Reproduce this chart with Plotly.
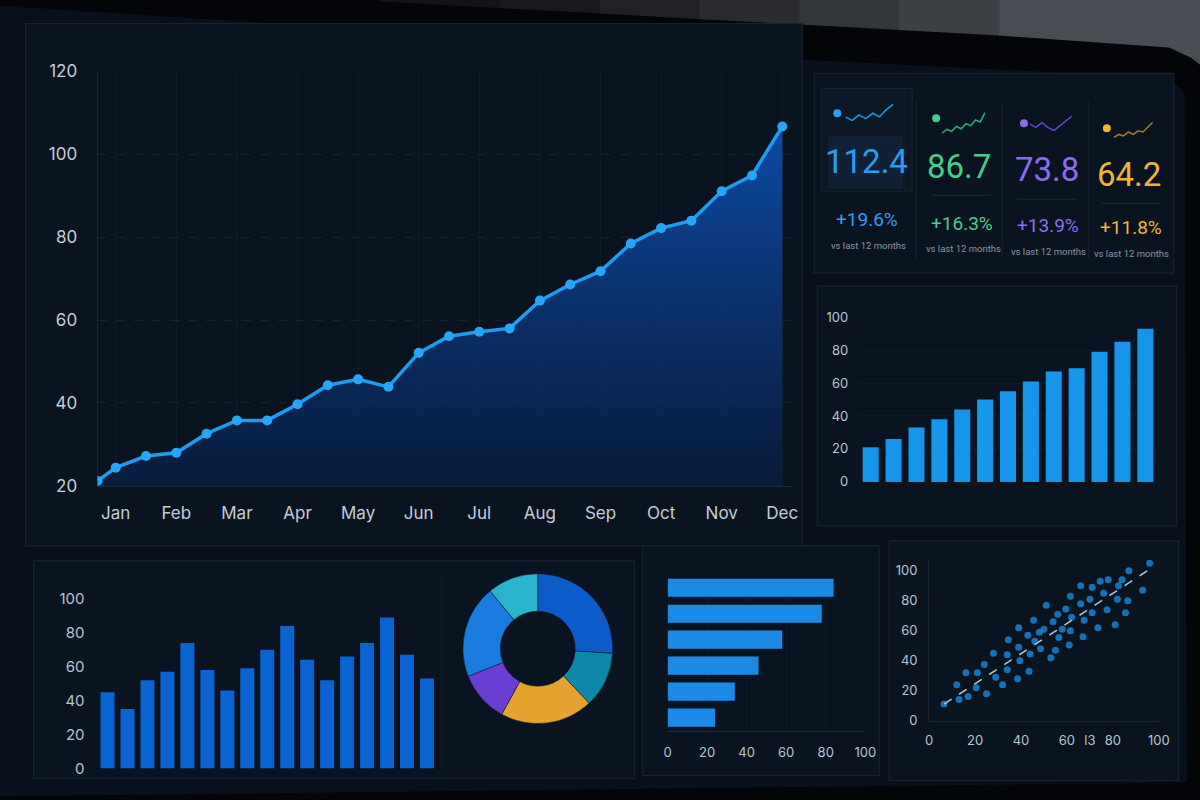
import plotly.graph_objects as go

# ---- data ----
months = ["Jan", "Feb", "Mar", "Apr", "May", "Jun", "Jul", "Aug", "Sep", "Oct", "Nov", "Dec"]
line_x = [-0.3, 0, 0.5, 1, 1.5, 2, 2.5, 3, 3.5, 4, 4.5, 5,
          5.5, 6, 6.5, 7, 7.5, 8, 8.5, 9, 9.5, 10, 10.5, 11]
line_y = [21.2, 24.4, 27.2, 28.0, 32.6, 35.8, 35.8, 39.7, 44.3, 45.7, 43.9, 52.1,
          56.1, 57.2, 58.0, 64.7, 68.6, 71.8, 78.5, 82.2, 84.0, 91.1, 94.9, 106.7]

kpi_values = ["112.4", "86.7", "73.8", "64.2"]
kpi_changes = ["+19.6%", "+16.3%", "+13.9%", "+11.8%"]
kpi_note = "vs last 12 months"
spark_blue = [3, 2, 3.5, 2.5, 4, 3, 5, 6.5]
spark_green = [1, 2, 1.5, 2.8, 2.2, 3.5, 3, 4.5, 4, 6.5]
spark_purple = [4, 3, 4.5, 3, 2, 3.5, 5, 6.5]
spark_orange = [1, 2, 1.5, 2.8, 2, 3.2, 2.8, 4.5, 6]

monthly_bars = [21, 26, 33, 38, 44, 50, 55, 61, 67, 69, 79, 85, 93]

weekly_bars = [45, 35, 52, 57, 74, 58, 46, 59, 70, 84, 64, 52, 66, 74, 89, 67, 53]

donut_labels = ["A", "B", "C", "D", "E", "F"]
donut_values = [26, 12, 20, 11, 20, 11]

hbar_labels = ["R1", "R2", "R3", "R4", "R5", "R6"]
hbar_values = [84, 78, 58, 46, 34, 24]

scatter_x = [6.5, 12, 16, 17, 13, 20.5, 21, 25, 24, 28, 29, 32, 34, 34.5, 34, 38.5, 39, 39, 39.5,
             43, 43.5, 44, 45.5, 46, 48.5, 50, 51, 53, 54, 56, 56.5, 59.5, 61, 61.5, 61.5, 62,
             66, 66, 67, 67.5, 70, 71, 73.5, 76, 74.5, 77.5, 78, 82, 82.5, 85.5, 86.5, 87, 84,
             93, 96, 81, 48, 58, 71, 55]
scatter_y = [11, 24, 32, 16, 14, 22, 32, 18, 37.5, 45, 29, 24, 44, 54, 34, 28, 62, 49, 40,
             57, 33, 44.5, 67, 53, 48, 61, 77, 42, 66, 71, 55.5, 74.5, 50.5, 60, 83, 69,
             90, 78, 56, 67, 81, 72, 62, 85, 93, 74, 94, 81, 90, 72, 80, 100, 94,
             87, 105, 64, 59, 61, 89, 47]
trend_x = [6.5, 95]
trend_y = [11, 100]
scatter_ticks = [0, 20, 40, 60, 70, 80, 100]
scatter_ticktext = ["0", "20", "40", "60", "l3", "80", "100"]

# the page lands slightly inset in the photo, so pixel targets are mapped through this
OX, OY, SW, SH = 3.3, 8.5, 1187.0, 781.0
TICK = "#b9c3d1"
FONT = "Inter"


def fx(x):
    return (x - OX) / SW


def fy(y):
    return 1 - (y - OY) / SH


def dx(a, b):
    return [fx(a), fx(b)]


def dy(top, bottom):
    return [fy(bottom), fy(top)]


def px_path(points):
    return "M " + " L ".join(f"{fx(x):.4f},{fy(y):.4f}" for x, y in points) + " Z"


def panel(x0, y0, x1, y1, fill="#0a1420"):
    return dict(type="rect", xref="paper", yref="paper", layer="below",
                x0=fx(x0), x1=fx(x1), y0=fy(y1), y1=fy(y0),
                fillcolor=fill, line=dict(color="#18232f", width=1.2))


fig = go.Figure()

# main line chart
fig.add_trace(go.Scatter(
    x=line_x, y=line_y, mode="lines+markers", xaxis="x", yaxis="y",
    line=dict(color="#1f9cf0", width=3.5),
    marker=dict(size=10, color="#27a6f6"),
    fill="tozeroy",
    fillgradient=dict(type="vertical",
                      colorscale=[[0, "rgba(6,22,50,0.6)"], [1, "rgba(12,78,175,0.95)"]]),
    hoverinfo="skip"))

# sparklines
sparks = [(spark_blue, "#1f8fe0"), (spark_green, "#2fa870"),
          (spark_purple, "#5a46c8"), (spark_orange, "#a07a28")]
for i, (s, c) in enumerate(sparks):
    n = str(6 + i)
    fig.add_trace(go.Scatter(y=s, mode="lines", xaxis="x" + n, yaxis="y" + n,
                             line=dict(color=c, width=1.6), hoverinfo="skip"))

# right bar chart
fig.add_trace(go.Bar(y=monthly_bars, xaxis="x2", yaxis="y2",
                     marker=dict(color="#1596ea", line=dict(width=0)),
                     hoverinfo="skip"))

# bottom-left bar chart
fig.add_trace(go.Bar(y=weekly_bars, xaxis="x3", yaxis="y3",
                     marker=dict(color="#0a63d2", line=dict(width=0)),
                     hoverinfo="skip"))

# donut
fig.add_trace(go.Pie(
    labels=donut_labels, values=donut_values, hole=0.5, sort=False,
    direction="clockwise", rotation=0, textinfo="none", hoverinfo="skip",
    marker=dict(colors=["#0b5cc9", "#0c88a8", "#e5a22e", "#6a3ed2", "#1a7be0", "#27b4cc"],
                line=dict(color="#0a131f", width=0.5)),
    domain=dict(x=dx(460, 616), y=dy(573, 723)), showlegend=False))

# horizontal bars
fig.add_trace(go.Bar(x=hbar_values, y=hbar_labels, orientation="h",
                     xaxis="x4", yaxis="y4",
                     marker=dict(color="#1a8ae6", line=dict(width=0)),
                     hoverinfo="skip"))

# scatter + trend
fig.add_trace(go.Scatter(x=scatter_x, y=scatter_y, mode="markers", xaxis="x5", yaxis="y5",
                         marker=dict(size=7, color="#1e8fe6", opacity=0.75),
                         hoverinfo="skip"))
fig.add_trace(go.Scatter(x=trend_x, y=trend_y, mode="lines", xaxis="x5", yaxis="y5",
                         line=dict(color="#9fc6ea", width=1.6, dash="dash"),
                         hoverinfo="skip"))

grid = "rgba(150,170,200,0.10)"
base_ax = dict(showline=False, zeroline=False, fixedrange=True,
               tickfont=dict(family=FONT, size=13, color=TICK), ticks="")

layout = dict(
    autosize=True, margin=dict(l=0, r=0, t=0, b=0),
    paper_bgcolor="#030508", plot_bgcolor="rgba(0,0,0,0)",
    showlegend=False, bargap=0.3,
    xaxis=dict(base_ax, domain=dx(97, 792), range=[-0.3, 11.15], anchor="y",
               tickvals=list(range(12)), ticktext=months,
               tickfont=dict(family=FONT, size=17, color="#c4ccd8"),
               showgrid=True, gridcolor="rgba(150,170,200,0.05)",
               showline=True, linecolor="rgba(150,170,200,0.15)", ticklabelstandoff=12),
    yaxis=dict(base_ax, domain=dy(70, 485), range=[20, 120], anchor="x",
               tickvals=[20, 40, 60, 80, 100, 120],
               tickfont=dict(family=FONT, size=17, color="#c4ccd8"),
               showgrid=True, gridcolor=grid, griddash="dash",
               showline=True, linecolor="rgba(150,170,200,0.12)", ticklabelstandoff=16),
    xaxis2=dict(base_ax, domain=dx(860, 1158), anchor="y2", showgrid=False, showticklabels=False),
    yaxis2=dict(base_ax, domain=dy(316, 481), anchor="x2", range=[0, 100], dtick=20,
                showgrid=True, gridcolor="rgba(150,170,200,0.05)", ticklabelstandoff=10),
    xaxis3=dict(base_ax, domain=dx(97, 437), anchor="y3", showgrid=False, showticklabels=False),
    yaxis3=dict(base_ax, domain=dy(598, 768), anchor="x3", range=[0, 100], dtick=20,
                tickfont=dict(family=FONT, size=15, color=TICK),
                showgrid=False, ticklabelstandoff=12),
    xaxis4=dict(base_ax, domain=dx(668, 866), anchor="y4", range=[0, 100], dtick=20,
                showgrid=True, gridcolor="rgba(150,170,200,0.04)",
                showline=True, linecolor="rgba(150,170,200,0.15)", ticklabelstandoff=10),
    yaxis4=dict(base_ax, domain=dy(574, 730), anchor="x4", autorange="reversed",
                showticklabels=False, showgrid=False),
    xaxis5=dict(base_ax, domain=dx(930, 1160), anchor="y5", range=[0, 100],
                tickvals=scatter_ticks, ticktext=scatter_ticktext,
                showgrid=False, showline=True, linecolor="rgba(150,170,200,0.12)",
                ticklabelstandoff=8),
    yaxis5=dict(base_ax, domain=dy(558, 720), anchor="x5", range=[0, 108],
                tickvals=[0, 20, 40, 60, 80, 100],
                showgrid=False, showline=True, linecolor="rgba(150,170,200,0.12)",
                ticklabelstandoff=8),
)

spark_pos = [(846, 894, 102, 120), (943, 986, 110, 133), (1031, 1073, 114, 130), (1115, 1154, 120, 137)]
for i, (a, b, t, bt) in enumerate(spark_pos):
    n = str(6 + i)
    layout["xaxis" + n] = dict(domain=dx(a, b), anchor="y" + n, visible=False, fixedrange=True)
    layout["yaxis" + n] = dict(domain=dy(t, bt), anchor="x" + n, visible=False, fixedrange=True)

fig.update_layout(**layout)

# wall behind the monitor: stepped shades, darker to the left
wall_steps = [(380, 500, "#121416"), (500, 600, "#17191c"), (600, 700, "#1f2124"),
              (700, 800, "#292b2f"), (800, 900, "#333639"), (900, 1000, "#3d4145"),
              (1000, 1210, "#484d53")]
shapes = []
for a, b, c in wall_steps:
    ya, yb = (a - 380) * 0.055, (b - 380) * 0.055
    pts = [(a, -10), (b + 1, -10), (b + 1, yb), (a, ya)]
    if b > 1100:
        pts = [(a, -10), (b, -10), (b, 70), (1192, 56), (1170, 46), (a, ya)]
    shapes.append(dict(type="path", xref="paper", yref="paper", layer="below",
                       path=px_path(pts), fillcolor=c, line=dict(width=0)))
shapes += [
    # screen face
    dict(type="path", xref="paper", yref="paper", layer="below",
         path=px_path([(-5, 4), (400, 30), (600, 45), (800, 58), (1000, 68), (1170, 76),
                       (1186, 92), (1188, 782), (-5, 796)]),
         fillcolor="#07101c", line=dict(width=0)),
    panel(25, 22, 803, 545),
    panel(815, 72, 1175, 272),
    panel(818, 285, 1178, 525),
    panel(33, 560, 635, 778),
    panel(643, 545, 880, 775),
    panel(890, 540, 1180, 780),
    # KPI card highlights
    panel(822, 87, 913, 190, fill="#0d1827"),
    panel(830, 135, 903, 187, fill="#102036"),
]
for x in [917, 1003, 1090]:
    shapes.append(dict(type="line", xref="paper", yref="paper",
                       x0=fx(x), x1=fx(x), y0=fy(258), y1=fy(100),
                       line=dict(color="#18232f", width=1)))
for (a, b, yy) in [(932, 992, 194), (1018, 1078, 198), (1102, 1162, 202)]:
    shapes.append(dict(type="line", xref="paper", yref="paper",
                       x0=fx(a), x1=fx(b), y0=fy(yy), y1=fy(yy),
                       line=dict(color="#1b2838", width=1)))
kpi_colors = ["#2a9ef2", "#43cf8a", "#8e6cf0", "#efb43a"]
dots = [(838, 112), (937, 117), (1025, 122), (1108, 127)]
for (cx, cy), c in zip(dots, kpi_colors):
    shapes.append(dict(type="circle", xref="paper", yref="paper",
                       x0=fx(cx - 4), x1=fx(cx + 4), y0=fy(cy + 4), y1=fy(cy - 4),
                       fillcolor=c, line=dict(width=0)))
# divider inside the bottom-left panel
shapes.append(dict(type="line", xref="paper", yref="paper",
                   x0=fx(442), x1=fx(442), y0=fy(770), y1=fy(572),
                   line=dict(color="#141e2b", width=1)))
fig.update_layout(shapes=shapes)

num_pos = [(867, 160), (960, 165), (1048, 168), (1130, 173)]
pct_pos = [(868, 218), (963, 222), (1049, 224), (1132, 226)]
note_pos = [(869, 244), (964, 247), (1050, 250), (1133, 252)]
ann = []
for i in range(4):
    c = kpi_colors[i]
    common = dict(xref="paper", yref="paper", showarrow=False, xanchor="center", yanchor="middle")
    ann.append(dict(common, x=fx(num_pos[i][0]), y=fy(num_pos[i][1]), text=kpi_values[i],
                    font=dict(family="Roboto", size=33, color=c)))
    ann.append(dict(common, x=fx(pct_pos[i][0]), y=fy(pct_pos[i][1]), text=kpi_changes[i],
                    font=dict(family="Roboto", size=19, color=c)))
    ann.append(dict(common, x=fx(note_pos[i][0]), y=fy(note_pos[i][1]), text=kpi_note,
                    font=dict(family="Roboto", size=9.5, color="#8a95a5")))
fig.update_layout(annotations=ann)

fig.write_html("out.html", config={"displayModeBar": False},
               default_width="100vw", default_height="100vh",
               post_script="document.body.style.margin='0';document.body.style.overflow='hidden';"
                           "window.dispatchEvent(new Event('resize'));")
